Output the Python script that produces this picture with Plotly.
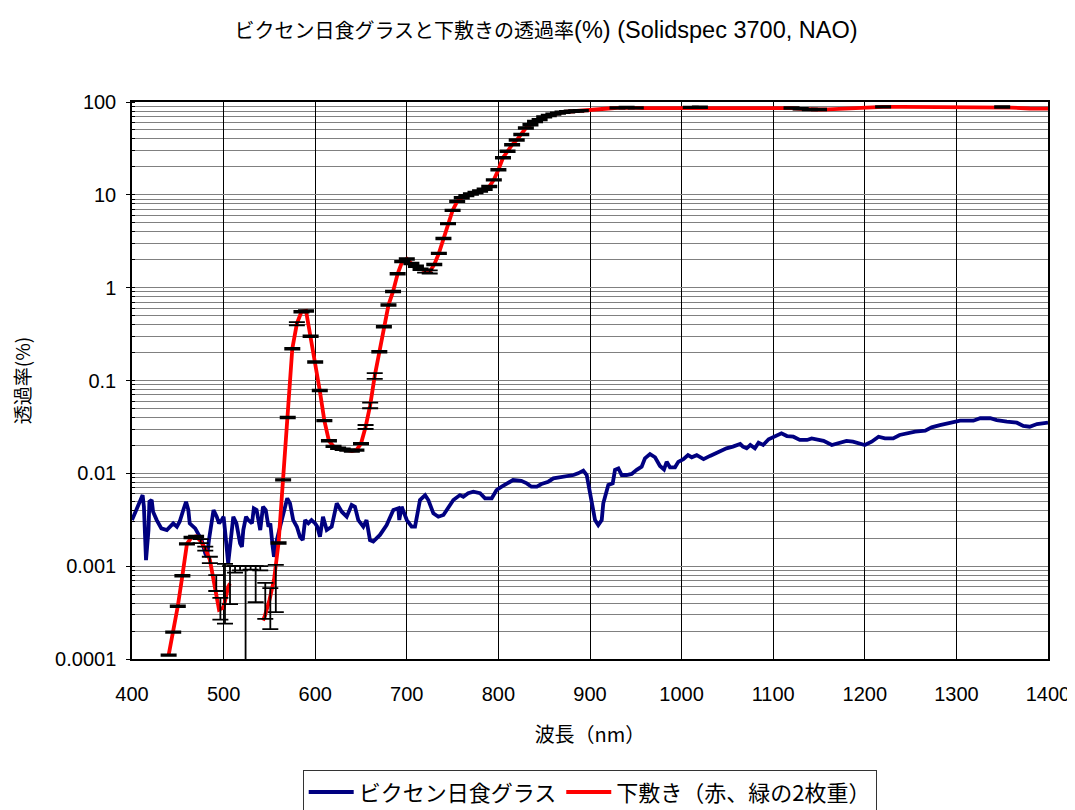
import plotly.graph_objects as go

title_cjk = "ビクセン日食グラスと下敷きの透過率"
title_latin = "(%) (Solidspec 3700, NAO)"
x_title = "波長（nm）"
y_title = "透過率(%)"
series_names = ["ビクセン日食グラス", "下敷き（赤、緑の2枚重）"]

y_tickvals = [0.0001, 0.001, 0.01, 0.1, 1, 10, 100]
y_ticktext = ["0.0001", "0.001", "0.01", "0.1", "1", "10", "100"]
x_tickvals = [400, 500, 600, 700, 800, 900, 1000, 1100, 1200, 1300, 1400]

# Vixen eclipse glass transmittance (%)
blue_wl = [400, 405, 408, 411.6, 413, 414, 415.3, 418, 419, 421.5, 423, 427, 432, 438, 441.5,
           445, 449, 452, 456, 459, 461.5, 463, 469, 472, 476, 480, 482, 484, 487, 489,
           492.5, 495, 498, 500, 501.5, 503.4, 505, 507, 509, 510.6, 514, 518, 520, 521.5,
           524.5, 527, 531, 533, 536, 540, 543, 546, 549, 551, 553.6, 555, 558, 561, 563.4,
           567, 569.5, 572.5, 576, 580, 583.4, 586.4, 589, 592.5, 596, 600, 602.3, 605.2,
           608.5, 612.6, 618, 623.5, 629, 634.4, 639.8, 643.4, 647, 652.5, 656, 659.8, 663.4,
           670.7, 678, 685.3, 690.7, 691.8, 694.4, 700, 705.3, 709, 714.4, 720, 723.5, 729,
           734.4, 740, 745.3, 750.8, 758, 761.7, 767, 772.6, 780, 785.4, 792.7, 798, 803.6,
           809, 816, 825, 831, 836, 842, 847, 854.5, 860, 867, 874.6, 882, 887, 892.7, 896.4,
           899.2, 902, 905.5, 909, 912.8, 914.5, 917.5, 920, 924.8, 927.3, 931, 934.6, 940,
           945.5, 951, 956.4, 960, 965.5, 971, 976.4, 980.8, 983.7, 987.3, 992.8, 996.4, 1002,
           1007, 1011, 1016.5, 1024, 1031, 1042, 1049, 1056, 1064, 1067, 1071, 1075, 1080,
           1084, 1089, 1095, 1100, 1109, 1115, 1122, 1129, 1137, 1142, 1147.5, 1155, 1164,
           1173, 1180, 1187, 1195, 1200, 1207.5, 1215, 1222, 1231, 1238, 1246, 1255, 1266,
           1273, 1282, 1293, 1304, 1318.5, 1326, 1337, 1344, 1355, 1366, 1373, 1380, 1388,
           1395, 1400]
blue_val = [3.14e-3, 4.20e-3, 4.94e-3, 5.83e-3, 4.37e-3, 2.45e-3, 1.16e-3, 2.45e-3, 4.94e-3,
            5.16e-3, 3.86e-3, 3.14e-3, 2.55e-3, 2.45e-3, 2.66e-3, 2.89e-3, 2.66e-3, 3.01e-3,
            4.03e-3, 4.94e-3, 4.03e-3, 2.89e-3, 2.55e-3, 2.26e-3, 1.91e-3, 1.37e-3, 1.26e-3,
            1.91e-3, 3.14e-3, 4.03e-3, 3.41e-3, 2.89e-3, 3.14e-3, 3.41e-3, 2.45e-3, 1.37e-3,
            1.07e-3, 1.62e-3, 2.66e-3, 3.41e-3, 2.89e-3, 1.76e-3, 1.62e-3, 2.45e-3, 3.41e-3,
            3.14e-3, 2.89e-3, 4.20e-3, 4.03e-3, 2.45e-3, 4.37e-3, 4.03e-3, 2.66e-3, 2.89e-3,
            1.62e-3, 1.26e-3, 1.91e-3, 2.45e-3, 3.14e-3, 4.20e-3, 5.38e-3, 4.75e-3, 3.14e-3,
            2.66e-3, 2.07e-3, 1.91e-3, 3.14e-3, 2.89e-3, 3.14e-3, 2.89e-3, 2.66e-3, 2.07e-3,
            3.41e-3, 2.45e-3, 2.66e-3, 4.75e-3, 3.86e-3, 3.41e-3, 4.56e-3, 4.37e-3, 3.14e-3,
            2.66e-3, 3.14e-3, 1.91e-3, 1.84e-3, 2.17e-3, 2.77e-3, 4.03e-3, 4.20e-3, 3.14e-3,
            4.37e-3, 3.14e-3, 2.66e-3, 2.66e-3, 5.16e-3, 5.83e-3, 5.16e-3, 3.71e-3, 3.41e-3,
            3.56e-3, 4.20e-3, 5.16e-3, 5.83e-3, 5.60e-3, 6.10e-3, 6.34e-3, 6.10e-3, 5.38e-3,
            5.38e-3, 6.61e-3, 7.18e-3, 7.80e-3, 8.47e-3, 8.32e-3, 7.80e-3, 7.18e-3, 7.18e-3,
            7.67e-3, 8.13e-3, 8.83e-3, 9.06e-3, 9.42e-3, 9.59e-3, 1.00e-2, 1.07e-2, 9.59e-3,
            6.61e-3, 4.37e-3, 3.14e-3, 2.77e-3, 3.14e-3, 4.75e-3, 6.10e-3, 7.48e-3, 7.80e-3,
            1.09e-2, 1.13e-2, 9.59e-3, 9.59e-3, 9.84e-3, 1.09e-2, 1.18e-2, 1.45e-2, 1.61e-2,
            1.49e-2, 1.20e-2, 1.10e-2, 1.33e-2, 1.16e-2, 1.16e-2, 1.33e-2, 1.42e-2, 1.57e-2,
            1.49e-2, 1.57e-2, 1.42e-2, 1.54e-2, 1.75e-2, 1.86e-2, 1.94e-2, 2.07e-2, 1.94e-2,
            1.86e-2, 2.02e-2, 1.86e-2, 2.14e-2, 2.02e-2, 2.33e-2, 2.44e-2, 2.70e-2, 2.52e-2,
            2.48e-2, 2.29e-2, 2.29e-2, 2.38e-2, 2.33e-2, 2.24e-2, 2.02e-2, 2.14e-2, 2.24e-2,
            2.19e-2, 2.07e-2, 2.02e-2, 2.19e-2, 2.48e-2, 2.38e-2, 2.38e-2, 2.59e-2, 2.70e-2,
            2.81e-2, 2.88e-2, 3.13e-2, 3.31e-2, 3.51e-2, 3.69e-2, 3.69e-2, 3.92e-2, 3.92e-2,
            3.75e-2, 3.60e-2, 3.51e-2, 3.24e-2, 3.18e-2, 3.40e-2, 3.45e-2, 3.51e-2]

# Shitajiki (red + green, two sheets) transmittance (%); None = no data
red_wl = [440, 445, 450, 455, 460, 465, 470, 475, 480, 485, 490, 495, 500, 505, 507, 510,
          543, 545, 550, 555, 560, 565, 570, 575, 580, 585, 590, 595, 600, 605, 610, 615,
          620, 625, 630, 635, 640, 645, 650, 655, 660, 665, 670, 675, 680, 685, 690, 695,
          700, 705, 710, 715, 720, 725, 730, 735, 740, 745, 750, 755, 760, 765, 770, 775,
          780, 785, 790, 795, 800, 805, 810, 815, 820, 825, 830, 835, 840, 845, 850, 855,
          860, 865, 870, 875, 880, 885, 890, 895, 900, 910, 920, 930, 940, 950, 960, 980,
          1000, 1010, 1020, 1040, 1060, 1080, 1100, 1120, 1130, 1140, 1150, 1160, 1180,
          1200, 1220, 1240, 1260, 1280, 1300, 1320, 1340, 1350, 1360, 1380, 1400]
red_val = [1.1e-4, 1.95e-4, 3.7e-4, 7.9e-4, 1.74e-3, 2.04e-3, 2.09e-3, 1.86e-3, 1.55e-3,
           1.17e-3, 6.5e-4, 3.4e-4, 3.6e-4, 6.0e-4, 6.5e-4, None,
           2.6e-4, 2.9e-4, 4.3e-4, 7.1e-4, 1.78e-3, 8.5e-3, 0.040, 0.22, 0.41, 0.55, 0.56,
           0.30, 0.158, 0.078, 0.037, 0.0224, 0.0195, 0.0186, 0.0182, 0.0178, 0.0174, 0.0178,
           0.0209, 0.0316, 0.054, 0.112, 0.204, 0.38, 0.65, 0.91, 1.41, 1.91, 2.04, 1.82,
           1.70, 1.58, 1.51, 1.48, 1.78, 2.34, 3.39, 4.9, 6.8, 8.5, 9.3, 9.8, 10.2, 10.6,
           11.0, 11.5, 12.3, 14.5, 18.6, 25.1, 29.5, 34.7, 38.9, 44.7, 52.5, 56.9, 61.7,
           64.6, 69.2, 71.6, 74.1, 75.9, 77.6, 78.5, 79.4, 80.0, 80.7, 81.3, 82.0, 83.5,
           85.1, 86.5, 87.1, 86.5, 86.1, 86.1, 87.1, 87.5, 87.7, 88.1, 88.1, 88.1, 88.1,
           86.1, 84.5, 83.2, 83.0, 83.2, 85.1, 87.1, 88.7, 88.7, 88.7, 88.7, 88.7, 88.7,
           88.7, 88.3, 87.1, 85.1, 84.7]
# relative half-size of the error bars drawn on the red curve (None = no bar)
red_err_rel = [0.02, 0.02, 0.02, 0.02, 0.02, 0.02, 0.02, 0.05, 0.05, 0.08, None, None, None,
               None, None, None, None, None, None, None, 0.02, 0.02, 0.02, 0.02, 0.04, 0.02,
               0.02, 0.02, 0.02, 0.02, 0.02, 0.02, 0.02, 0.02, 0.02, 0.02, 0.02, 0.02, 0.02,
               0.05, 0.07, 0.07, 0.02, 0.02, 0.02, 0.02, 0.02, 0.02, 0.02, 0.02, 0.02, 0.02,
               0.04, 0.04, 0.02, 0.02, 0.02, 0.02, 0.02, 0.02, 0.02, 0.02, 0.02, 0.02, 0.02,
               0.02, 0.02, 0.02, 0.02, 0.02, 0.02, 0.02, 0.02, 0.02, 0.02, 0.02, 0.02, 0.02,
               0.02, 0.02, 0.02, 0.02, 0.02, 0.02, 0.02, 0.02, 0.02, None, None, None, None,
               0.02, 0.02, 0.02, None, None, None, 0.02, 0.02, None, None, None, None,
               0.02, 0.02, 0.02, 0.02, None, None, None, 0.02, None, None, None, None, None,
               None, 0.02, None, None, None]

# error bars in the 490-560 nm region where the red curve is near the noise floor
gap_wl = [492, 496.5, 501.5, 507, 512.5, 518, 524, 529.5, 535, 540, 545.5, 551, 557]
gap_val = [6.7e-4, 3.6e-4, 6.5e-4, 6.95e-4, 9.25e-4, 9.5e-4, 5.0e-4, 9.6e-4, 7.05e-4,
           9.5e-4, 4.65e-4, 3.95e-4, 6.75e-4]
gap_plus = [1.3e-4, 0.95e-4, 4.1e-4, 3.05e-4, 0.75e-4, 0.5e-4, 5.0e-4, 0.4e-4, 2.95e-4,
            0.5e-4, 1.95e-4, 1.85e-4, 3.55e-4]
gap_minus = [1.3e-4, 0.95e-4, 4.1e-4, 3.05e-4, 0.75e-4, 0.5e-4, 1.0e-3, 0.4e-4, 2.95e-4,
             0.5e-4, 1.95e-4, 1.85e-4, 3.55e-4]

# assemble error-bar trace from the arrays above
err_x, err_y, err_p, err_m = [], [], [], []
for w, v, r in zip(red_wl, red_val, red_err_rel):
    if v is not None and r is not None:
        err_x.append(w); err_y.append(v); err_p.append(v * r); err_m.append(v * r)
for w, v, p, m in zip(gap_wl, gap_val, gap_plus, gap_minus):
    err_x.append(w); err_y.append(v); err_p.append(p); err_m.append(m)

FONT = "'Liberation Sans', Arial, 'Noto Sans CJK JP', sans-serif"
JFONT = "'Noto Sans CJK JP', 'Liberation Sans', sans-serif"

# the page body adds an 8 px offset, so the figure is 8 px smaller than the window
W, H = 1067, 802

fig = go.Figure()
fig.add_trace(go.Scatter(x=blue_wl, y=blue_val, mode="lines", name=series_names[0],
                         line=dict(color="#000080", width=3.8), hoverinfo="skip"))
fig.add_trace(go.Scatter(x=red_wl, y=red_val, mode="lines", name=series_names[1],
                         line=dict(color="#FF0000", width=3.8), connectgaps=False,
                         hoverinfo="skip"))
fig.add_trace(go.Scatter(x=err_x, y=err_y, mode="markers", showlegend=False,
                         marker=dict(size=1, color="rgba(0,0,0,0)"), hoverinfo="skip",
                         error_y=dict(type="data", symmetric=False, array=err_p,
                                      arrayminus=err_m, color="black", thickness=1.8,
                                      width=8)))

title_html = ("<span style='font-size:20px'>" + title_cjk + "</span>" + title_latin)

fig.update_layout(
    width=W, height=H,
    paper_bgcolor="white", plot_bgcolor="white",
    margin=dict(l=124, r=27, t=94, b=151, autoexpand=False),
    title=dict(text=title_html, x=538 / W, xanchor="center", xref="container",
               y=1 - 22 / H, yanchor="middle", yref="container",
               font=dict(family=FONT, size=23.5, color="black")),
    showlegend=True,
    legend=dict(orientation="h", x=0.5, xanchor="center", xref="paper",
                y=1 - 762 / H, yanchor="top", yref="container",
                bordercolor="#333333", borderwidth=1.2, bgcolor="white",
                font=dict(family=JFONT, size=22, color="black"),
                itemwidth=45, tracegroupgap=0),
)
fig.update_xaxes(type="linear", range=[400, 1400], tickvals=x_tickvals, automargin=False,
                 showgrid=True, gridcolor="black", gridwidth=1,
                 showline=True, linecolor="black", linewidth=1.5, mirror=True,
                 ticks="", ticklabelstandoff=16,
                 tickfont=dict(family=FONT, size=20, color="black"),
                 title=dict(text=x_title, font=dict(family=JFONT, size=20, color="black"),
                            standoff=24),
                 zeroline=False)
fig.update_yaxes(type="log", range=[-4, 2], tickvals=y_tickvals, ticktext=y_ticktext,
                 automargin=False,
                 showgrid=True, gridcolor="#808080", gridwidth=1,
                 minor=dict(dtick="D1", showgrid=True, gridcolor="#808080", gridwidth=1,
                            ticks="inside", ticklen=3, tickcolor="black"),
                 showline=True, linecolor="black", linewidth=1.5, mirror=True,
                 ticks="outside", ticklen=4, tickcolor="black", ticklabelstandoff=6,
                 tickfont=dict(family=FONT, size=20, color="black"),
                 title=dict(text=y_title, font=dict(family=JFONT, size=19, color="black"),
                            standoff=39),
                 zeroline=False)

fig.write_html("out.html")
